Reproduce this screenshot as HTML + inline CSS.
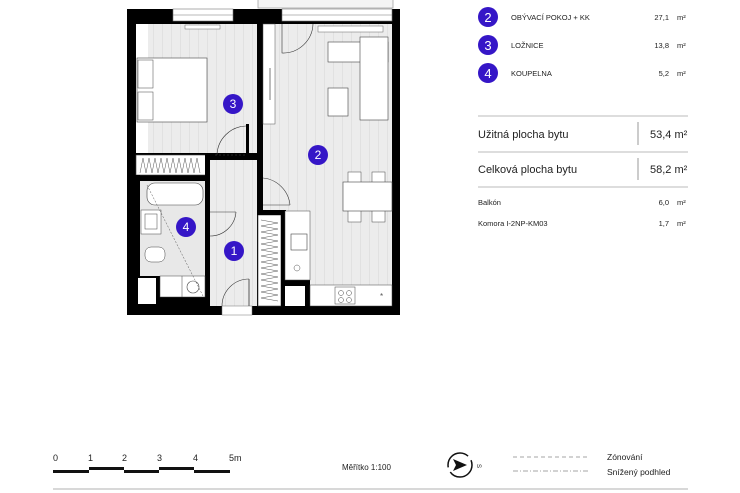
<!DOCTYPE html>
<html><head><meta charset="utf-8"><style>
body{margin:0;background:#fff;width:740px;height:493px;overflow:hidden}
svg{display:block}
text{font-family:"Liberation Sans",sans-serif}
</style></head><body>
<svg width="740" height="493" viewBox="0 0 740 493" xmlns="http://www.w3.org/2000/svg">
<defs>
<pattern id="fl" width="9" height="10" patternUnits="userSpaceOnUse"><rect width="9" height="10" fill="#ececec"/><line x1="0.5" y1="0" x2="0.5" y2="10" stroke="#dadada" stroke-width="0.6"/></pattern>
</defs>
<!-- balcony -->
<rect x="258" y="-2" width="135" height="10" fill="#f4f4f4" stroke="#999" stroke-width="0.7"/>
<!-- outer walls -->
<rect x="127" y="9" width="273" height="306" fill="#000"/>
<!-- floors -->
<rect x="136" y="24" width="121" height="129" fill="url(#fl)"/>
<rect x="263" y="24" width="129" height="282" fill="url(#fl)"/>
<rect x="210" y="160" width="47" height="146" fill="url(#fl)"/>
<rect x="140" y="180" width="65" height="117" fill="#e8e8e8"/>
<!-- window gaps top -->
<rect x="173" y="9" width="60" height="12" fill="#fff" stroke="#777" stroke-width="0.6"/>
<line x1="173" y1="15" x2="233" y2="15" stroke="#777" stroke-width="0.6"/>
<rect x="282" y="9" width="110" height="12" fill="#fff" stroke="#777" stroke-width="0.6"/>
<line x1="282" y1="15" x2="392" y2="15" stroke="#777" stroke-width="0.6"/>
<rect x="185" y="25" width="35" height="4" fill="#fff" stroke="#666" stroke-width="0.5"/>
<rect x="318" y="26" width="65" height="6" fill="#fff" stroke="#666" stroke-width="0.5"/>
<!-- central wall -->
<rect x="257" y="24" width="6" height="153" fill="#000"/>
<rect x="257" y="205" width="6" height="10" fill="#000"/>
<!-- wardrobe room 3 -->
<rect x="263" y="24" width="12" height="100" fill="#fff" stroke="#555" stroke-width="0.5"/>
<line x1="270" y1="68" x2="270" y2="100" stroke="#555" stroke-width="0.8"/>
<rect x="136" y="24" width="12" height="130" fill="#fff"/>
<!-- bed -->
<rect x="137" y="58" width="70" height="64" fill="#fff" stroke="#444" stroke-width="0.6"/>
<rect x="138" y="60" width="15" height="28" fill="#fff" stroke="#444" stroke-width="0.5"/>
<rect x="138" y="92" width="15" height="28" fill="#fff" stroke="#444" stroke-width="0.5"/>
<!-- wall below room 3 + closet -->
<rect x="136" y="153" width="74" height="2" fill="#000"/>
<rect x="136" y="155" width="70" height="20" fill="#fff" stroke="#444" stroke-width="0.6"/>
<path d="M140 173 L143 158 L146 173 L149 158 L152 173 L155 158 L158 173 L161 158 L164 173 L167 158 L170 173 L173 158 L176 173 L179 158 L182 173 L185 158 L188 173 L191 158 L194 173 L197 158 L200 173" fill="none" stroke="#555" stroke-width="0.5"/>
<rect x="205" y="153" width="10" height="5" fill="#000"/>
<rect x="205" y="153" width="5" height="60" fill="#000"/>
<rect x="205" y="237" width="5" height="70" fill="#000"/>
<rect x="246" y="124" width="3" height="32" fill="#000"/>
<rect x="248" y="153" width="15" height="5" fill="#000"/>
<path d="M217 155 A30 30 0 0 1 246 126" fill="none" stroke="#333" stroke-width="0.6"/>
<line x1="215" y1="155" x2="246" y2="155" stroke="#444" stroke-dasharray="2 2" stroke-width="0.6"/>
<!-- bath left wall area -->
<rect x="127" y="175" width="13" height="130" fill="#000"/>
<rect x="136" y="276" width="24" height="30" fill="#000"/>
<rect x="138" y="278" width="18" height="26" fill="#fff"/>
<rect x="160" y="297" width="50" height="9" fill="#000"/>
<rect x="140" y="178" width="70" height="3" fill="#000"/>
<!-- bath fixtures -->
<rect x="147" y="183" width="56" height="22" rx="8" fill="#fff" stroke="#444" stroke-width="0.6"/>
<rect x="141" y="210" width="20" height="24" fill="#fff" stroke="#444" stroke-width="0.5"/>
<rect x="145" y="214" width="12" height="15" fill="#fff" stroke="#444" stroke-width="0.5"/>
<rect x="145" y="247" width="20" height="15" rx="6" fill="#fff" stroke="#444" stroke-width="0.5"/>
<rect x="160" y="276" width="45" height="21" fill="#fff" stroke="#444" stroke-width="0.5"/>
<line x1="182" y1="276" x2="182" y2="297" stroke="#444" stroke-width="0.5"/>
<circle cx="193" cy="287" r="6" fill="none" stroke="#444" stroke-width="0.6"/>
<line x1="147" y1="185" x2="203" y2="296" stroke="#555" stroke-width="0.5" stroke-dasharray="2 1.5"/>
<path d="M210 236 A26 26 0 0 0 236 212" fill="none" stroke="#333" stroke-width="0.6"/>
<line x1="210" y1="212" x2="236" y2="212" stroke="#333" stroke-width="0.6"/>
<!-- closet strip -->
<rect x="258" y="215" width="23" height="91" fill="#fff" stroke="#444" stroke-width="0.6"/>
<path d="M261 220 L278 223 L261 226 L278 229 L261 232 L278 235 L261 238 L278 241 L261 244 L278 247 L261 250 L278 253 L261 256 L278 259 L261 262 L278 265 L261 268 L278 271 L261 274 L278 277 L261 280 L278 283 L261 286 L278 289 L261 292 L278 295 L261 298 L278 301" fill="none" stroke="#555" stroke-width="0.5"/>
<rect x="257" y="210" width="29" height="5" fill="#000"/>
<rect x="281" y="210" width="4" height="96" fill="#000"/>
<rect x="281" y="280" width="29" height="6" fill="#000"/>
<rect x="305" y="280" width="5" height="26" fill="#000"/>
<rect x="285" y="286" width="20" height="20" fill="#fff"/>
<!-- door hall-living -->
<path d="M263 178 A30 30 0 0 1 290 205" fill="none" stroke="#333" stroke-width="0.6"/>
<line x1="263" y1="205" x2="290" y2="205" stroke="#333" stroke-width="0.6"/>
<!-- entrance door -->
<rect x="222" y="306" width="30" height="9" fill="#fff" stroke="#777" stroke-width="0.5"/>
<path d="M222 306 A27 27 0 0 1 249 279" fill="none" stroke="#333" stroke-width="0.6"/>
<line x1="249" y1="279" x2="249" y2="306" stroke="#333" stroke-width="0.8"/>
<!-- kitchen -->
<rect x="285" y="211" width="25" height="69" fill="#fff" stroke="#444" stroke-width="0.5"/>
<rect x="291" y="234" width="16" height="16" fill="#fff" stroke="#444" stroke-width="0.6"/>
<circle cx="297" cy="268" r="3" fill="none" stroke="#555" stroke-width="0.5"/>
<rect x="310" y="285" width="82" height="21" fill="#fff" stroke="#444" stroke-width="0.5"/>
<rect x="335" y="287" width="20" height="17" fill="#fff" stroke="#444" stroke-width="0.5"/>
<circle cx="341" cy="293" r="2.5" fill="none" stroke="#444" stroke-width="0.5"/><circle cx="349" cy="293" r="2.5" fill="none" stroke="#444" stroke-width="0.5"/>
<circle cx="341" cy="300" r="2.5" fill="none" stroke="#444" stroke-width="0.5"/><circle cx="349" cy="300" r="2.5" fill="none" stroke="#444" stroke-width="0.5"/>
<text x="380" y="299" font-size="8" fill="#555">*</text>
<!-- living furniture -->
<path d="M282 24 L282 53 A30 30 0 0 0 313 24" fill="none" stroke="#333" stroke-width="0.6"/>
<rect x="328" y="42" width="60" height="20" fill="#fff" stroke="#444" stroke-width="0.6"/>
<rect x="360" y="37" width="28" height="83" fill="#fff" stroke="#444" stroke-width="0.6"/>
<rect x="328" y="88" width="20" height="28" fill="#fff" stroke="#444" stroke-width="0.6"/>
<rect x="348" y="172" width="13" height="50" fill="#fff" stroke="#444" stroke-width="0.5"/>
<rect x="372" y="172" width="13" height="50" fill="#fff" stroke="#444" stroke-width="0.5"/>
<rect x="343" y="182" width="49" height="29" fill="#fff" stroke="#444" stroke-width="0.6"/>
<!-- room numbers -->
<g fill="#3516c7"><circle cx="233" cy="104" r="10"/><circle cx="318" cy="155" r="10"/><circle cx="186" cy="227" r="10"/><circle cx="234" cy="251" r="10"/></g>
<g fill="#fff" font-size="12" text-anchor="middle"><text x="233" y="108">3</text><text x="318" y="159">2</text><text x="186" y="231">4</text><text x="234" y="255">1</text></g>
<!-- legend -->
<g fill="#3516c7"><circle cx="488" cy="17" r="10"/><circle cx="488" cy="45" r="10"/><circle cx="488" cy="73" r="10"/></g>
<g fill="#fff" font-size="13" text-anchor="middle"><text x="488" y="22">2</text><text x="488" y="50">3</text><text x="488" y="78">4</text></g>
<g font-size="7.5" fill="#222"><text x="511" y="20">OBÝVACÍ POKOJ + KK</text><text x="511" y="48">LOŽNICE</text><text x="511" y="76">KOUPELNA</text>
<text x="669" y="20" text-anchor="end">27,1</text><text x="669" y="48" text-anchor="end">13,8</text><text x="669" y="76" text-anchor="end">5,2</text>
<text x="677" y="20">m²</text><text x="677" y="48">m²</text><text x="677" y="76">m²</text></g>
<g stroke="#bbb" stroke-width="1"><line x1="478" y1="116" x2="688" y2="116"/><line x1="478" y1="152" x2="688" y2="152"/><line x1="478" y1="187" x2="688" y2="187"/></g>
<g stroke="#999" stroke-width="1"><line x1="638" y1="122" x2="638" y2="145"/><line x1="638" y1="158" x2="638" y2="180"/></g>
<g font-size="11" fill="#222"><text x="478" y="138">Užitná plocha bytu</text><text x="478" y="173">Celková plocha bytu</text>
<text x="650" y="138">53,4 m²</text><text x="650" y="173">58,2 m²</text></g>
<g font-size="7.5" fill="#222"><text x="478" y="205">Balkón</text><text x="478" y="226">Komora I-2NP-KM03</text>
<text x="669" y="205" text-anchor="end">6,0</text><text x="669" y="226" text-anchor="end">1,7</text><text x="677" y="205">m²</text><text x="677" y="226">m²</text></g>
<!-- scale bar -->
<g font-size="9" fill="#222"><text x="53" y="461">0</text><text x="88" y="461">1</text><text x="122" y="461">2</text><text x="157" y="461">3</text><text x="193" y="461">4</text><text x="229" y="461">5m</text></g>
<g fill="#111"><rect x="53" y="470" width="36" height="3"/><rect x="89" y="467" width="35" height="3"/><rect x="124" y="470" width="35" height="3"/><rect x="159" y="467" width="35" height="3"/><rect x="194" y="470" width="36" height="3"/></g>
<text x="342" y="470" font-size="8" fill="#222">Měřítko 1:100</text>
<circle cx="460" cy="465" r="12" fill="none" stroke="#111" stroke-width="1.5" stroke-dasharray="30 5"/>
<path d="M453 459 L467 465 L453 471 L456 465 Z" fill="#111"/>
<text x="478" y="469" font-size="6" fill="#222" transform="rotate(90 480 466)">S</text>
<line x1="513" y1="457" x2="588" y2="457" stroke="#888" stroke-width="0.7" stroke-dasharray="4 3"/>
<line x1="513" y1="471" x2="588" y2="471" stroke="#888" stroke-width="0.7" stroke-dasharray="5 2 1 2"/>
<g font-size="8.5" fill="#222"><text x="607" y="460">Zónování</text><text x="607" y="475">Snížený podhled</text></g>
<line x1="53" y1="489" x2="688" y2="489" stroke="#ccc" stroke-width="1.5"/>
</svg>
</body></html>
